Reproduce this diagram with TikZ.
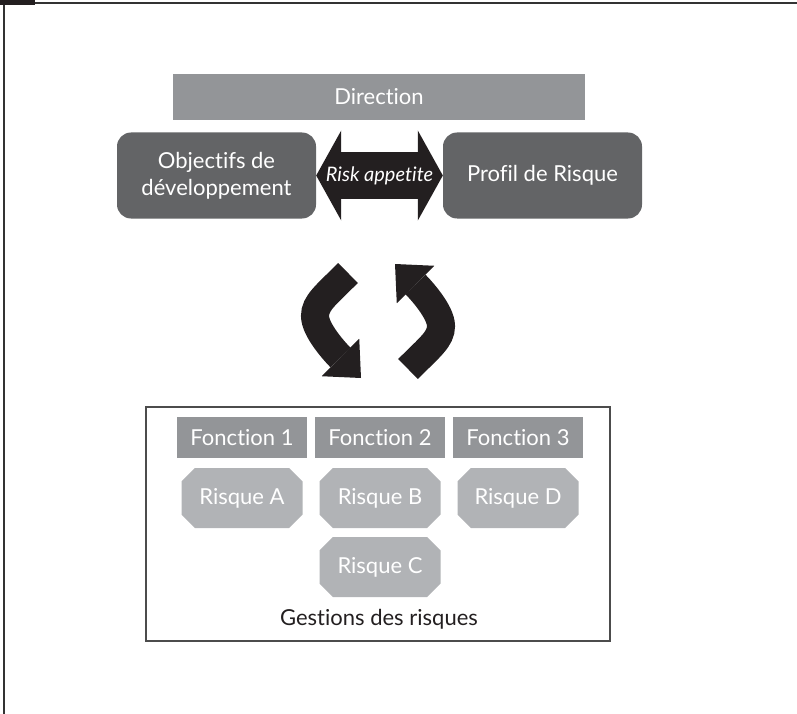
\documentclass[tikz,border=0pt]{standalone}
\usepackage{fontspec}
\setmainfont{Lato}[Ligatures=NoCommon]
\usetikzlibrary{positioning,arrows.meta,shapes.misc}

\definecolor{grismoyen}{HTML}{939598}
\definecolor{grisfonce}{HTML}{636466}
\definecolor{grisclair}{HTML}{B1B3B6}
\definecolor{noir}{HTML}{231F20}

\begin{document}
\begin{tikzpicture}[x=1pt,y=-1pt,node distance=138pt,on grid,
	every node/.style={font=\fontsize{22}{27}\selectfont},
	barre/.style={rectangle,fill=grismoyen,text=white,inner sep=0pt},
	bloc/.style={rectangle,rounded corners=14pt,fill=grisfonce,text=white,
		minimum width=199pt,minimum height=86pt,align=center},
	fonction/.style={barre,minimum width=130pt,minimum height=41pt},
	risque/.style={chamfered rectangle,chamfered rectangle xsep=15pt,
		fill=grisclair,text=white,minimum width=121pt,minimum height=60pt,inner sep=0pt},
	courbe/.style={draw=noir,line width=28pt,
		-{Triangle[width=53pt,length=29pt,line width=0pt]}}]
	\useasboundingbox (0,0) rectangle (797,714);

	% cadre de la page
	\draw[line width=2pt,black!80] (0,3.5) -- (797,3.5);
	\draw[line width=2pt,black!80] (3.5,0) -- (3.5,714);
	\fill[noir] (0,0) rectangle (35,5);

	\node[barre,minimum width=412pt,minimum height=46pt] (dir) at (379,97) {Direction};
	\node[bloc] (obj) at (216.5,175.5) {Objectifs de\\développement};
	\node[bloc] (prof) at (542.5,175.5) {Profil de Risque};

	\draw[draw=noir,line width=47pt,{Triangle[width=90pt,length=25pt,line width=0pt]}-{Triangle[width=90pt,length=25pt,line width=0pt]}]
		(obj.east) -- (prof.west) node[midway,text=white,font=\fontsize{20}{24}\selectfont\itshape] (ra) {Risk appetite};

	% fleches du cycle
	\draw[courbe] (348,273) .. controls (326,295) and (315,303) .. (315,316)
		.. controls (315,330) and (335,352) .. (361,378);
	\draw[courbe] (408,369) .. controls (430,347) and (441,339) .. (441,326)
		.. controls (441,312) and (421,290) .. (395,264);

	% gestion des risques
	\node[draw=black!70,line width=1.5pt,minimum width=464pt,minimum height=234pt] (cadre) at (378,524) {};
	\node[fonction] (f2) at (380,437.5) {Fonction 2};
	\node[fonction] (f1) [left=of f2] {Fonction 1};
	\node[fonction] (f3) [right=of f2] {Fonction 3};

	\node[risque] (rB) [below=60.5pt of f2] {Risque B};
	\node[risque] (rA) [left=of rB] {Risque A};
	\node[risque] (rD) [right=of rB] {Risque D};
	\node[risque] (rC) [below=69pt of rB] {Risque C};

	\node[text=noir] (gest) at (379,619) {Gestions des risques};
\end{tikzpicture}
\end{document}
